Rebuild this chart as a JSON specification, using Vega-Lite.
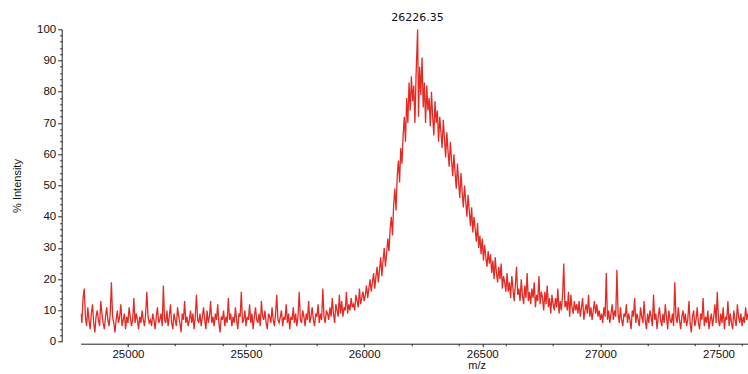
{
"$schema": "https://vega.github.io/schema/vega-lite/v6.json",
"width": 667.3, "height": 312.4,
"autosize": {"type": "none"},
"padding": {"left": 80.7, "top": 29.3, "right": 0, "bottom": 32.3},
"config": {"view": {"stroke": null}, "font": "Liberation Sans Narrow, Liberation Sans, Arial",
 "axis": {"labelFont": "Liberation Sans Narrow, Liberation Sans, Arial", "titleFont": "Liberation Sans Narrow, Liberation Sans, Arial", "labelFontSize": 11.5, "titleFontSize": 11, "titleFontWeight": "normal", "labelColor": "#111", "titleColor": "#111", "domainColor": "#222", "tickColor": "#222", "grid": false}},
"resolve": {"axis": {"x": "independent", "y": "independent"}},
"layer": [
 {"data": {"values": [
{"mz":24800,"pct":9},{"mz":24805,"pct":6},{"mz":24810,"pct":14},{"mz":24815,"pct":17},{"mz":24820,"pct":8},{"mz":24825,"pct":5},{"mz":24830,"pct":11},{"mz":24835,"pct":7},{"mz":24840,"pct":4},{"mz":24845,"pct":9},
{"mz":24850,"pct":12},{"mz":24855,"pct":6},{"mz":24860,"pct":3},{"mz":24865,"pct":8},{"mz":24870,"pct":10},{"mz":24875,"pct":7},{"mz":24880,"pct":5},{"mz":24885,"pct":13},{"mz":24890,"pct":9},{"mz":24895,"pct":6},
{"mz":24900,"pct":4},{"mz":24905,"pct":8},{"mz":24910,"pct":11},{"mz":24915,"pct":7},{"mz":24920,"pct":5},{"mz":24925,"pct":9},{"mz":24930,"pct":19},{"mz":24935,"pct":8},{"mz":24940,"pct":6},{"mz":24945,"pct":3},
{"mz":24950,"pct":7},{"mz":24955,"pct":10},{"mz":24960,"pct":6},{"mz":24965,"pct":8},{"mz":24970,"pct":12},{"mz":24975,"pct":5},{"mz":24980,"pct":7},{"mz":24985,"pct":9},{"mz":24990,"pct":4},{"mz":24995,"pct":8},
{"mz":25000,"pct":6},{"mz":25005,"pct":11},{"mz":25010,"pct":8},{"mz":25015,"pct":5},{"mz":25020,"pct":7},{"mz":25025,"pct":14},{"mz":25030,"pct":6},{"mz":25035,"pct":9},{"mz":25040,"pct":7},{"mz":25045,"pct":4},
{"mz":25050,"pct":8},{"mz":25055,"pct":6},{"mz":25060,"pct":10},{"mz":25065,"pct":7},{"mz":25070,"pct":5},{"mz":25075,"pct":9},{"mz":25080,"pct":16},{"mz":25085,"pct":8},{"mz":25090,"pct":6},{"mz":25095,"pct":7},
{"mz":25100,"pct":5},{"mz":25105,"pct":9},{"mz":25110,"pct":7},{"mz":25115,"pct":4},{"mz":25120,"pct":8},{"mz":25125,"pct":11},{"mz":25130,"pct":6},{"mz":25135,"pct":7},{"mz":25140,"pct":9},{"mz":25145,"pct":5},
{"mz":25150,"pct":18},{"mz":25155,"pct":7},{"mz":25160,"pct":6},{"mz":25165,"pct":10},{"mz":25170,"pct":5},{"mz":25175,"pct":8},{"mz":25180,"pct":12},{"mz":25185,"pct":6},{"mz":25190,"pct":4},{"mz":25195,"pct":9},
{"mz":25200,"pct":7},{"mz":25205,"pct":5},{"mz":25210,"pct":11},{"mz":25215,"pct":8},{"mz":25220,"pct":6},{"mz":25225,"pct":3},{"mz":25230,"pct":9},{"mz":25235,"pct":7},{"mz":25240,"pct":13},{"mz":25245,"pct":6},
{"mz":25250,"pct":8},{"mz":25255,"pct":5},{"mz":25260,"pct":7},{"mz":25265,"pct":10},{"mz":25270,"pct":6},{"mz":25275,"pct":9},{"mz":25280,"pct":4},{"mz":25285,"pct":8},{"mz":25290,"pct":15},{"mz":25295,"pct":7},
{"mz":25300,"pct":6},{"mz":25305,"pct":9},{"mz":25310,"pct":5},{"mz":25315,"pct":8},{"mz":25320,"pct":11},{"mz":25325,"pct":7},{"mz":25330,"pct":4},{"mz":25335,"pct":10},{"mz":25340,"pct":6},{"mz":25345,"pct":8},
{"mz":25350,"pct":13},{"mz":25355,"pct":6},{"mz":25360,"pct":8},{"mz":25365,"pct":5},{"mz":25370,"pct":9},{"mz":25375,"pct":7},{"mz":25380,"pct":12},{"mz":25385,"pct":6},{"mz":25390,"pct":3},{"mz":25395,"pct":8},
{"mz":25400,"pct":7},{"mz":25405,"pct":10},{"mz":25410,"pct":5},{"mz":25415,"pct":8},{"mz":25420,"pct":6},{"mz":25425,"pct":14},{"mz":25430,"pct":7},{"mz":25435,"pct":9},{"mz":25440,"pct":5},{"mz":25445,"pct":8},
{"mz":25450,"pct":6},{"mz":25455,"pct":11},{"mz":25460,"pct":7},{"mz":25465,"pct":4},{"mz":25470,"pct":9},{"mz":25475,"pct":8},{"mz":25480,"pct":16},{"mz":25485,"pct":6},{"mz":25490,"pct":7},{"mz":25495,"pct":10},
{"mz":25500,"pct":5},{"mz":25505,"pct":8},{"mz":25510,"pct":7},{"mz":25515,"pct":12},{"mz":25520,"pct":6},{"mz":25525,"pct":9},{"mz":25530,"pct":4},{"mz":25535,"pct":8},{"mz":25540,"pct":11},{"mz":25545,"pct":7},
{"mz":25550,"pct":6},{"mz":25555,"pct":9},{"mz":25560,"pct":5},{"mz":25565,"pct":13},{"mz":25570,"pct":8},{"mz":25575,"pct":7},{"mz":25580,"pct":10},{"mz":25585,"pct":6},{"mz":25590,"pct":4},{"mz":25595,"pct":9},
{"mz":25600,"pct":8},{"mz":25605,"pct":6},{"mz":25610,"pct":11},{"mz":25615,"pct":7},{"mz":25620,"pct":5},{"mz":25625,"pct":9},{"mz":25630,"pct":15},{"mz":25635,"pct":7},{"mz":25640,"pct":6},{"mz":25645,"pct":8},
{"mz":25650,"pct":10},{"mz":25655,"pct":5},{"mz":25660,"pct":8},{"mz":25665,"pct":7},{"mz":25670,"pct":12},{"mz":25675,"pct":6},{"mz":25680,"pct":9},{"mz":25685,"pct":4},{"mz":25690,"pct":8},{"mz":25695,"pct":7},
{"mz":25700,"pct":11},{"mz":25705,"pct":6},{"mz":25710,"pct":9},{"mz":25715,"pct":5},{"mz":25720,"pct":8},{"mz":25725,"pct":16},{"mz":25730,"pct":7},{"mz":25735,"pct":6},{"mz":25740,"pct":10},{"mz":25745,"pct":8},
{"mz":25750,"pct":5},{"mz":25755,"pct":9},{"mz":25760,"pct":7},{"mz":25765,"pct":13},{"mz":25770,"pct":6},{"mz":25775,"pct":8},{"mz":25780,"pct":11},{"mz":25785,"pct":7},{"mz":25790,"pct":5},{"mz":25795,"pct":9},
{"mz":25800,"pct":8},{"mz":25805,"pct":12},{"mz":25810,"pct":6},{"mz":25815,"pct":9},{"mz":25820,"pct":7},{"mz":25825,"pct":17},{"mz":25830,"pct":8},{"mz":25835,"pct":6},{"mz":25840,"pct":10},{"mz":25845,"pct":9},
{"mz":25850,"pct":7},{"mz":25855,"pct":11},{"mz":25860,"pct":8},{"mz":25865,"pct":14},{"mz":25870,"pct":9},{"mz":25875,"pct":6},{"mz":25880,"pct":12},{"mz":25885,"pct":10},{"mz":25890,"pct":8},{"mz":25895,"pct":15},
{"mz":25900,"pct":9},{"mz":25905,"pct":13},{"mz":25910,"pct":8},{"mz":25915,"pct":11},{"mz":25920,"pct":10},{"mz":25925,"pct":16},{"mz":25930,"pct":9},{"mz":25935,"pct":12},{"mz":25940,"pct":10},{"mz":25945,"pct":14},
{"mz":25950,"pct":11},{"mz":25955,"pct":12},{"mz":25960,"pct":10},{"mz":25965,"pct":15},{"mz":25970,"pct":13},{"mz":25975,"pct":11},{"mz":25980,"pct":17},{"mz":25985,"pct":12},{"mz":25990,"pct":14},{"mz":25995,"pct":16},
{"mz":26000,"pct":13},{"mz":26005,"pct":15},{"mz":26010,"pct":18},{"mz":26015,"pct":14},{"mz":26020,"pct":17},{"mz":26025,"pct":20},{"mz":26030,"pct":16},{"mz":26035,"pct":19},{"mz":26040,"pct":22},{"mz":26045,"pct":17},
{"mz":26050,"pct":21},{"mz":26055,"pct":24},{"mz":26060,"pct":19},{"mz":26065,"pct":23},{"mz":26070,"pct":27},{"mz":26075,"pct":21},{"mz":26080,"pct":26},{"mz":26085,"pct":30},{"mz":26090,"pct":24},{"mz":26095,"pct":28},
{"mz":26100,"pct":33},{"mz":26105,"pct":29},{"mz":26110,"pct":36},{"mz":26115,"pct":40},{"mz":26120,"pct":34},{"mz":26125,"pct":44},{"mz":26130,"pct":49},{"mz":26135,"pct":42},{"mz":26140,"pct":53},{"mz":26145,"pct":58},
{"mz":26150,"pct":51},{"mz":26155,"pct":62},{"mz":26160,"pct":57},{"mz":26165,"pct":66},{"mz":26170,"pct":72},{"mz":26175,"pct":64},{"mz":26180,"pct":78},{"mz":26185,"pct":70},{"mz":26190,"pct":83},{"mz":26195,"pct":74},
{"mz":26200,"pct":85},{"mz":26205,"pct":77},{"mz":26210,"pct":82},{"mz":26215,"pct":70},{"mz":26220,"pct":86},{"mz":26226.35,"pct":100},
{"mz":26230,"pct":72},{"mz":26235,"pct":88},{"mz":26240,"pct":79},{"mz":26245,"pct":91},{"mz":26250,"pct":75},{"mz":26255,"pct":83},{"mz":26260,"pct":70},{"mz":26265,"pct":82},{"mz":26270,"pct":74},{"mz":26275,"pct":78},
{"mz":26280,"pct":69},{"mz":26285,"pct":80},{"mz":26290,"pct":72},{"mz":26295,"pct":66},{"mz":26300,"pct":77},{"mz":26305,"pct":70},{"mz":26310,"pct":74},{"mz":26315,"pct":64},{"mz":26320,"pct":72},{"mz":26325,"pct":67},
{"mz":26330,"pct":62},{"mz":26335,"pct":71},{"mz":26340,"pct":65},{"mz":26345,"pct":59},{"mz":26350,"pct":67},{"mz":26355,"pct":61},{"mz":26360,"pct":56},{"mz":26365,"pct":64},{"mz":26370,"pct":58},{"mz":26375,"pct":53},
{"mz":26380,"pct":60},{"mz":26385,"pct":54},{"mz":26390,"pct":49},{"mz":26395,"pct":57},{"mz":26400,"pct":51},{"mz":26405,"pct":46},{"mz":26410,"pct":54},{"mz":26415,"pct":48},{"mz":26420,"pct":43},{"mz":26425,"pct":50},
{"mz":26430,"pct":45},{"mz":26435,"pct":40},{"mz":26440,"pct":47},{"mz":26445,"pct":42},{"mz":26450,"pct":37},{"mz":26455,"pct":43},{"mz":26460,"pct":35},{"mz":26465,"pct":40},{"mz":26470,"pct":36},{"mz":26475,"pct":32},
{"mz":26480,"pct":38},{"mz":26485,"pct":30},{"mz":26490,"pct":34},{"mz":26495,"pct":28},{"mz":26500,"pct":33},{"mz":26505,"pct":26},{"mz":26510,"pct":31},{"mz":26515,"pct":27},{"mz":26520,"pct":24},{"mz":26525,"pct":29},
{"mz":26530,"pct":25},{"mz":26535,"pct":28},{"mz":26540,"pct":22},{"mz":26545,"pct":26},{"mz":26550,"pct":20},{"mz":26555,"pct":27},{"mz":26560,"pct":22},{"mz":26565,"pct":19},{"mz":26570,"pct":24},{"mz":26575,"pct":20},
{"mz":26580,"pct":25},{"mz":26585,"pct":17},{"mz":26590,"pct":21},{"mz":26595,"pct":19},{"mz":26600,"pct":16},
{"mz":26605,"pct":22},{"mz":26610,"pct":16},{"mz":26615,"pct":19},{"mz":26620,"pct":14},{"mz":26625,"pct":21},{"mz":26630,"pct":17},{"mz":26635,"pct":13},{"mz":26640,"pct":18},{"mz":26645,"pct":24},{"mz":26650,"pct":15},
{"mz":26655,"pct":17},{"mz":26660,"pct":13},{"mz":26665,"pct":20},{"mz":26670,"pct":15},{"mz":26675,"pct":12},{"mz":26680,"pct":18},{"mz":26685,"pct":14},{"mz":26690,"pct":22},{"mz":26695,"pct":13},{"mz":26700,"pct":16},
{"mz":26705,"pct":12},{"mz":26710,"pct":17},{"mz":26715,"pct":14},{"mz":26720,"pct":19},{"mz":26725,"pct":11},{"mz":26730,"pct":15},{"mz":26735,"pct":13},{"mz":26740,"pct":21},{"mz":26745,"pct":12},{"mz":26750,"pct":16},
{"mz":26755,"pct":14},{"mz":26760,"pct":10},{"mz":26765,"pct":16},{"mz":26770,"pct":12},{"mz":26775,"pct":18},{"mz":26780,"pct":11},{"mz":26785,"pct":14},{"mz":26790,"pct":9},{"mz":26795,"pct":15},{"mz":26800,"pct":12},
{"mz":26805,"pct":10},{"mz":26810,"pct":14},{"mz":26815,"pct":11},{"mz":26820,"pct":17},{"mz":26825,"pct":9},{"mz":26830,"pct":13},{"mz":26835,"pct":10},{"mz":26840,"pct":15},{"mz":26845,"pct":25},{"mz":26850,"pct":11},
{"mz":26855,"pct":13},{"mz":26860,"pct":10},{"mz":26865,"pct":16},{"mz":26870,"pct":8},{"mz":26875,"pct":15},{"mz":26880,"pct":11},{"mz":26885,"pct":9},{"mz":26890,"pct":13},{"mz":26895,"pct":10},{"mz":26900,"pct":12},
{"mz":26905,"pct":9},{"mz":26910,"pct":13},{"mz":26915,"pct":8},{"mz":26920,"pct":11},{"mz":26925,"pct":14},{"mz":26930,"pct":7},{"mz":26935,"pct":10},{"mz":26940,"pct":12},{"mz":26945,"pct":9},{"mz":26950,"pct":15},
{"mz":26955,"pct":8},{"mz":26960,"pct":11},{"mz":26965,"pct":7},{"mz":26970,"pct":10},{"mz":26975,"pct":13},{"mz":26980,"pct":9},{"mz":26985,"pct":12},{"mz":26990,"pct":8},{"mz":26995,"pct":10},{"mz":27000,"pct":7},
{"mz":27005,"pct":9},{"mz":27010,"pct":6},{"mz":27015,"pct":11},{"mz":27020,"pct":8},{"mz":27025,"pct":22},{"mz":27030,"pct":7},{"mz":27035,"pct":10},{"mz":27040,"pct":6},{"mz":27045,"pct":9},{"mz":27050,"pct":12},
{"mz":27055,"pct":7},{"mz":27060,"pct":10},{"mz":27065,"pct":8},{"mz":27070,"pct":23},{"mz":27075,"pct":9},{"mz":27080,"pct":6},{"mz":27085,"pct":11},{"mz":27090,"pct":7},{"mz":27095,"pct":5},{"mz":27100,"pct":9},
{"mz":27105,"pct":8},{"mz":27110,"pct":12},{"mz":27115,"pct":6},{"mz":27120,"pct":9},{"mz":27125,"pct":7},{"mz":27130,"pct":4},{"mz":27135,"pct":10},{"mz":27140,"pct":8},{"mz":27145,"pct":14},{"mz":27150,"pct":6},
{"mz":27155,"pct":9},{"mz":27160,"pct":7},{"mz":27165,"pct":5},{"mz":27170,"pct":11},{"mz":27175,"pct":8},{"mz":27180,"pct":6},{"mz":27185,"pct":13},{"mz":27190,"pct":7},{"mz":27195,"pct":4},{"mz":27200,"pct":9},
{"mz":27205,"pct":6},{"mz":27210,"pct":10},{"mz":27215,"pct":8},{"mz":27220,"pct":5},{"mz":27225,"pct":15},{"mz":27230,"pct":7},{"mz":27235,"pct":9},{"mz":27240,"pct":4},{"mz":27245,"pct":8},{"mz":27250,"pct":11},
{"mz":27255,"pct":7},{"mz":27260,"pct":5},{"mz":27265,"pct":9},{"mz":27270,"pct":6},{"mz":27275,"pct":12},{"mz":27280,"pct":8},{"mz":27285,"pct":4},{"mz":27290,"pct":10},{"mz":27295,"pct":7},{"mz":27300,"pct":6},
{"mz":27305,"pct":9},{"mz":27310,"pct":5},{"mz":27315,"pct":19},{"mz":27320,"pct":8},{"mz":27325,"pct":6},{"mz":27330,"pct":11},{"mz":27335,"pct":7},{"mz":27340,"pct":4},{"mz":27345,"pct":8},{"mz":27350,"pct":10},
{"mz":27355,"pct":6},{"mz":27360,"pct":9},{"mz":27365,"pct":5},{"mz":27370,"pct":7},{"mz":27375,"pct":13},{"mz":27380,"pct":6},{"mz":27385,"pct":3},{"mz":27390,"pct":8},{"mz":27395,"pct":10},{"mz":27400,"pct":5},
{"mz":27405,"pct":7},{"mz":27410,"pct":11},{"mz":27415,"pct":6},{"mz":27420,"pct":4},{"mz":27425,"pct":9},{"mz":27430,"pct":7},{"mz":27435,"pct":14},{"mz":27440,"pct":5},{"mz":27445,"pct":8},{"mz":27450,"pct":6},
{"mz":27455,"pct":10},{"mz":27460,"pct":4},{"mz":27465,"pct":7},{"mz":27470,"pct":9},{"mz":27475,"pct":5},{"mz":27480,"pct":8},{"mz":27485,"pct":12},{"mz":27490,"pct":6},{"mz":27495,"pct":16},{"mz":27500,"pct":7},
{"mz":27505,"pct":5},{"mz":27510,"pct":9},{"mz":27515,"pct":6},{"mz":27520,"pct":11},{"mz":27525,"pct":4},{"mz":27530,"pct":8},{"mz":27535,"pct":7},{"mz":27540,"pct":13},{"mz":27545,"pct":5},{"mz":27550,"pct":9},
{"mz":27555,"pct":6},{"mz":27560,"pct":4},{"mz":27565,"pct":10},{"mz":27570,"pct":7},{"mz":27575,"pct":5},{"mz":27580,"pct":12},{"mz":27585,"pct":8},{"mz":27590,"pct":6},{"mz":27595,"pct":9},{"mz":27600,"pct":5},
{"mz":27605,"pct":8},{"mz":27610,"pct":6},{"mz":27615,"pct":11},{"mz":27620,"pct":7},{"mz":27625,"pct":9}
 ]},
  "mark": {"type": "line", "color": "#E32B26", "strokeWidth": 1.3, "clip": true},
  "encoding": {
   "x": {"field": "mz", "type": "quantitative", "scale": {"domain": [24800, 27625], "nice": false, "zero": false},
         "axis": {"values": [25000, 25500, 26000, 26500, 27000, 27500], "format": "d", "offset": 2, "tickSize": 3, "labelPadding": 2, "title": "m/z", "titleX": 396, "titleY": 22, "titleBaseline": "middle", "titleAlign": "center", "labelFlush": false}},
   "y": {"field": "pct", "type": "quantitative", "scale": {"domain": [0, 100], "nice": false},
         "axis": {"values": [0, 10, 20, 30, 40, 50, 60, 70, 80, 90, 100], "offset": 19, "tickSize": 4, "labelPadding": 2, "title": "% Intensity", "titlePadding": 14}}
  }
 },
 {"data": {"values": [{"mz": 26226.35, "pct": 100, "label": "26226.35"}]},
  "mark": {"type": "text", "font": "DejaVu Sans", "fontSize": 11, "color": "#111", "dy": -11, "baseline": "middle", "align": "center"},
  "encoding": {
   "x": {"field": "mz", "type": "quantitative", "axis": {"orient": "bottom", "values": [25200, 25400, 25600, 25800, 26200, 26400, 26600, 26800, 27200, 27400, 27600], "labels": false, "domain": false, "offset": 2, "tickSize": 2, "title": null}},
   "y": {"field": "pct", "type": "quantitative", "axis": {"orient": "left", "values": [2,4,6,8,12,14,16,18,22,24,26,28,32,34,36,38,42,44,46,48,52,54,56,58,62,64,66,68,72,74,76,78,82,84,86,88,92,94,96,98], "labels": false, "domain": false, "offset": 19, "tickSize": 2, "title": null}},
   "text": {"field": "label"}
  }
 }
]
}
